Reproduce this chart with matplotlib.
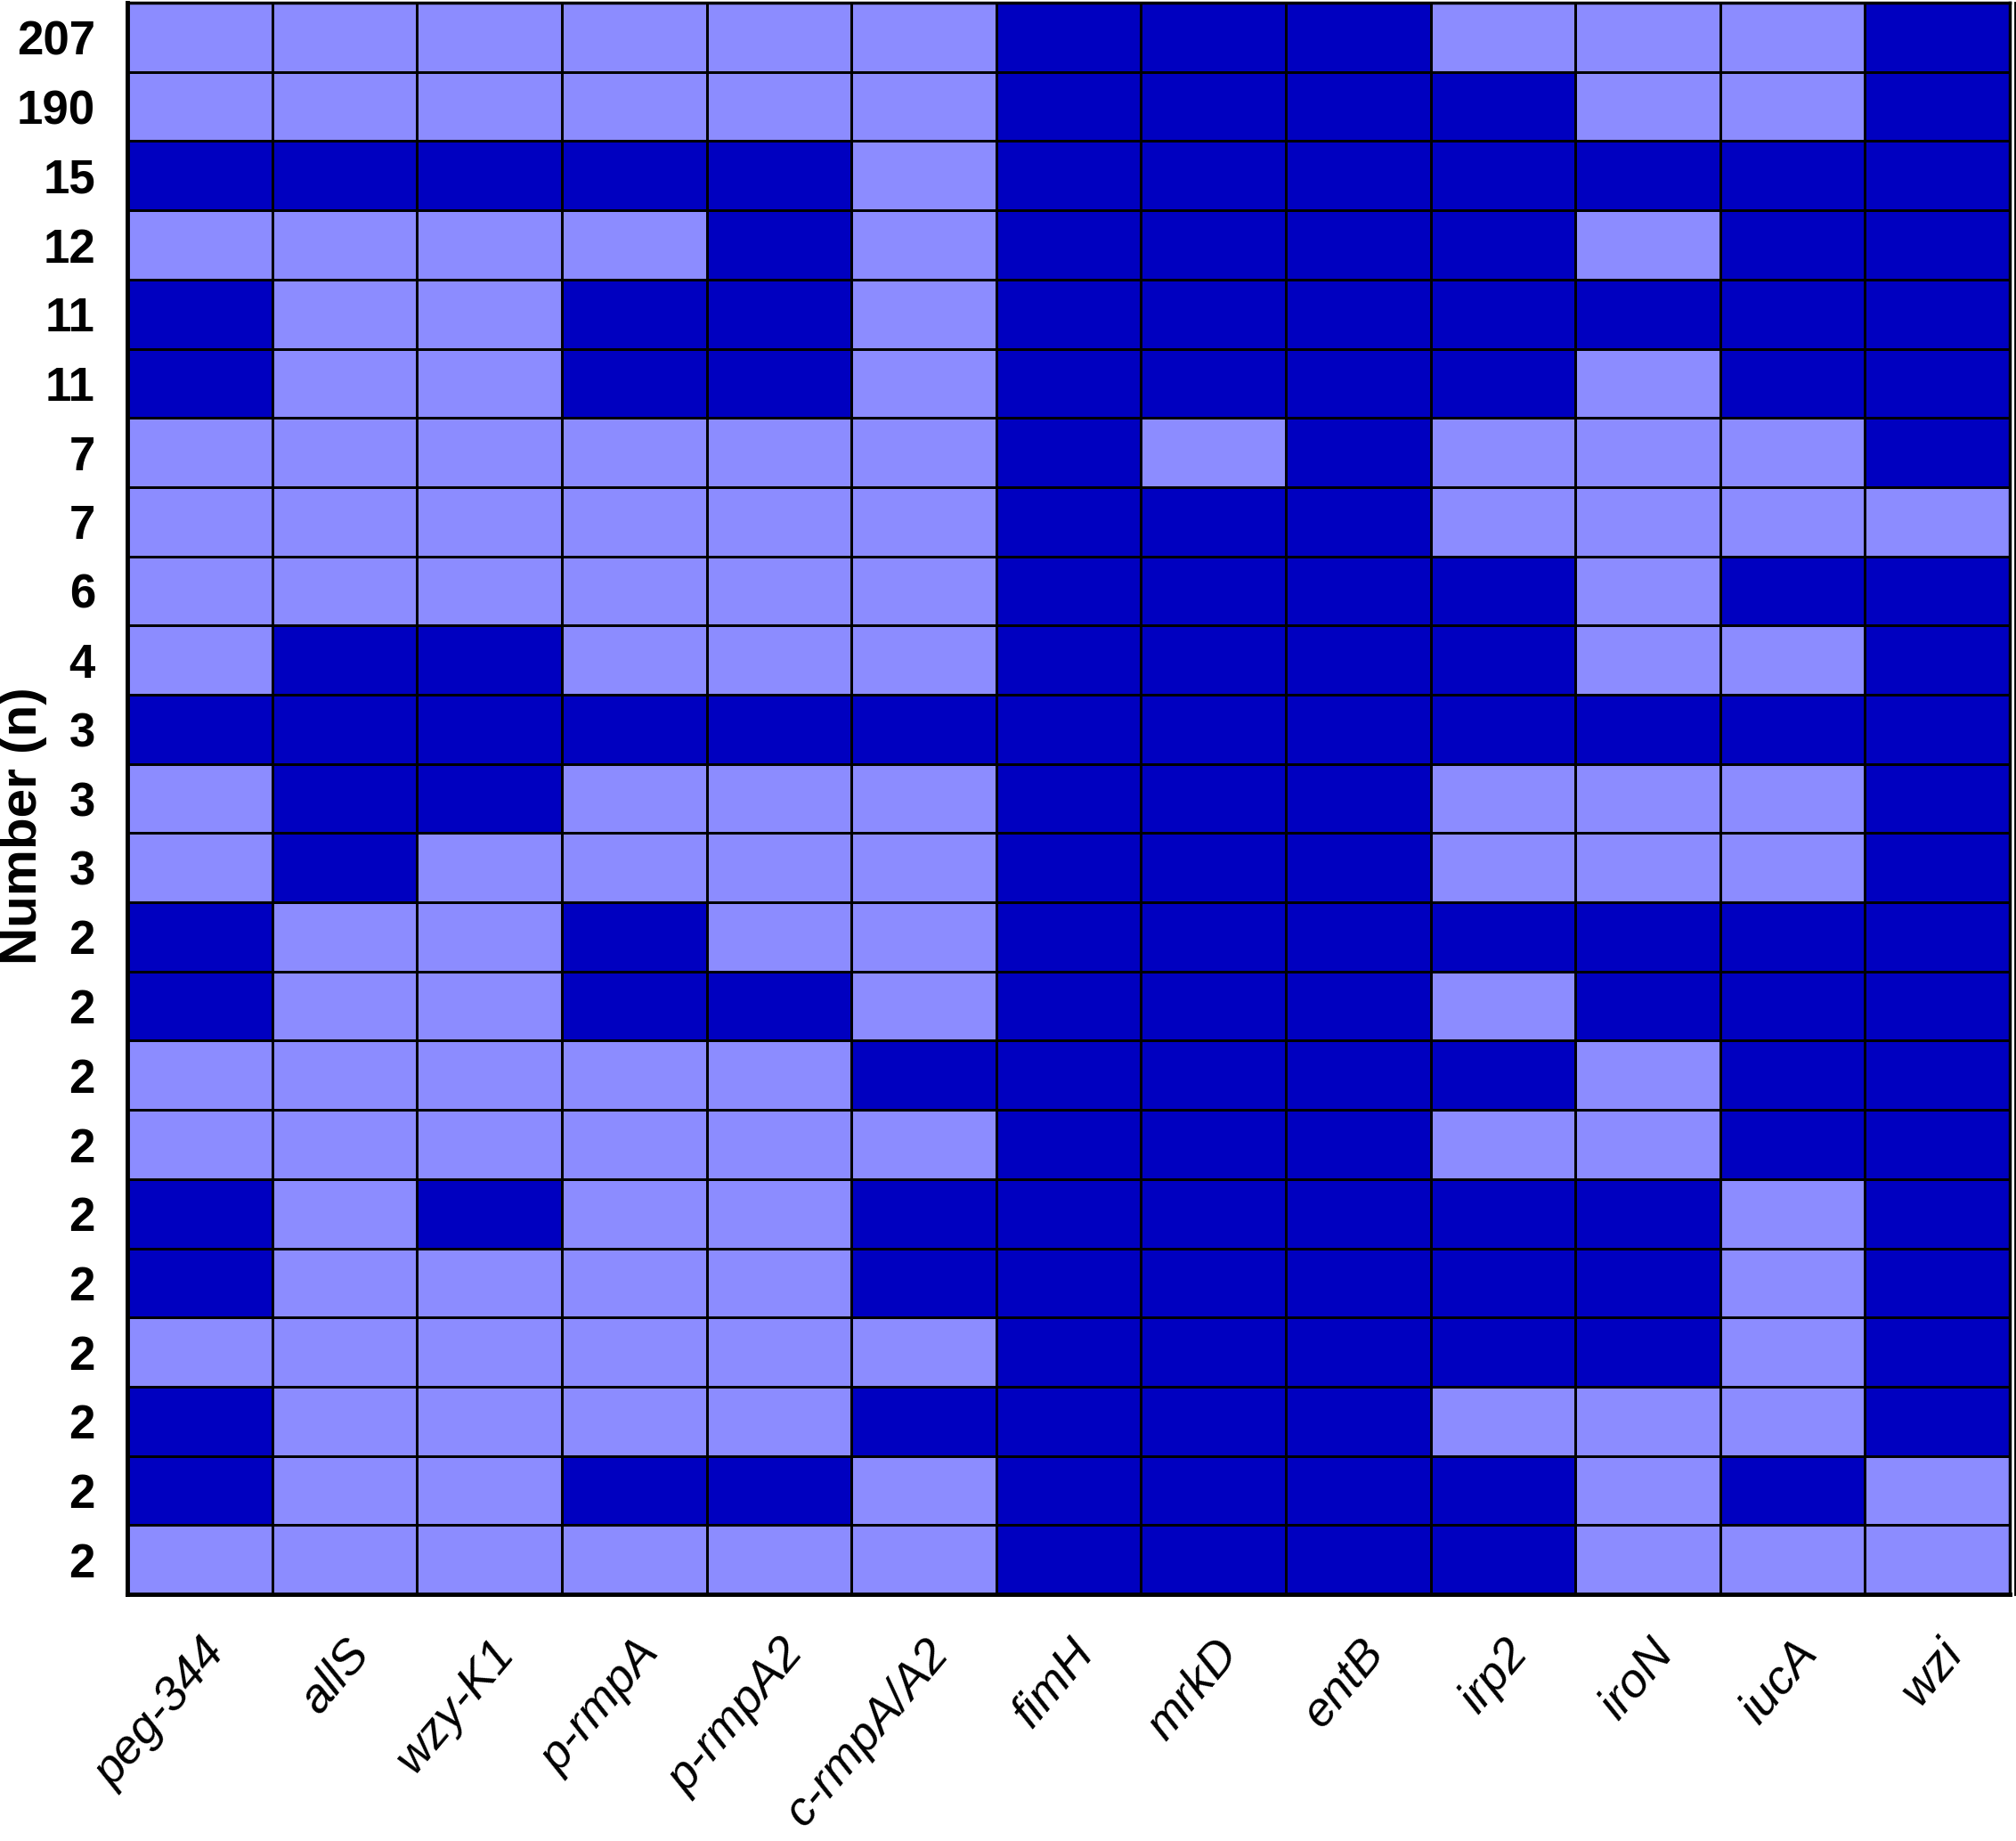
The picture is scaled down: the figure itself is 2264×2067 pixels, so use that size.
import matplotlib
matplotlib.use('Agg')
import matplotlib.pyplot as plt
from matplotlib.colors import ListedColormap
import numpy as np

plt.rcParams['font.family'] = ['Liberation Sans', 'DejaVu Sans']

# Genes (columns) and isolate counts (rows, top to bottom)
genes = ['peg-344', 'allS', 'wzy-K1', 'p-rmpA', 'p-rmpA2', 'c-rmpA/A2',
         'fimH', 'mrkD', 'entB', 'irp2', 'iroN', 'iucA', 'wzi']
counts = [207, 190, 15, 12, 11, 11, 7, 7, 6, 4, 3, 3, 3,
          2, 2, 2, 2, 2, 2, 2, 2, 2, 2]

# 1 = gene present (dark), 0 = absent (light)
presence = [
    [0, 0, 0, 0, 0, 0, 1, 1, 1, 0, 0, 0, 1],
    [0, 0, 0, 0, 0, 0, 1, 1, 1, 1, 0, 0, 1],
    [1, 1, 1, 1, 1, 0, 1, 1, 1, 1, 1, 1, 1],
    [0, 0, 0, 0, 1, 0, 1, 1, 1, 1, 0, 1, 1],
    [1, 0, 0, 1, 1, 0, 1, 1, 1, 1, 1, 1, 1],
    [1, 0, 0, 1, 1, 0, 1, 1, 1, 1, 0, 1, 1],
    [0, 0, 0, 0, 0, 0, 1, 0, 1, 0, 0, 0, 1],
    [0, 0, 0, 0, 0, 0, 1, 1, 1, 0, 0, 0, 0],
    [0, 0, 0, 0, 0, 0, 1, 1, 1, 1, 0, 1, 1],
    [0, 1, 1, 0, 0, 0, 1, 1, 1, 1, 0, 0, 1],
    [1, 1, 1, 1, 1, 1, 1, 1, 1, 1, 1, 1, 1],
    [0, 1, 1, 0, 0, 0, 1, 1, 1, 0, 0, 0, 1],
    [0, 1, 0, 0, 0, 0, 1, 1, 1, 0, 0, 0, 1],
    [1, 0, 0, 1, 0, 0, 1, 1, 1, 1, 1, 1, 1],
    [1, 0, 0, 1, 1, 0, 1, 1, 1, 0, 1, 1, 1],
    [0, 0, 0, 0, 0, 1, 1, 1, 1, 1, 0, 1, 1],
    [0, 0, 0, 0, 0, 0, 1, 1, 1, 0, 0, 1, 1],
    [1, 0, 1, 0, 0, 1, 1, 1, 1, 1, 1, 0, 1],
    [1, 0, 0, 0, 0, 1, 1, 1, 1, 1, 1, 0, 1],
    [0, 0, 0, 0, 0, 0, 1, 1, 1, 1, 1, 0, 1],
    [1, 0, 0, 0, 0, 1, 1, 1, 1, 0, 0, 0, 1],
    [1, 0, 0, 1, 1, 0, 1, 1, 1, 1, 0, 1, 0],
    [0, 0, 0, 0, 0, 0, 1, 1, 1, 1, 0, 0, 0],
]

light, dark = '#8c8cff', '#0000c0'

fig = plt.figure(figsize=(22.64, 20.67), dpi=100)
ax = fig.add_axes([0.0632, 0.134, 0.9337, 0.8645])

grid = np.array(presence)
ax.pcolormesh(grid, cmap=ListedColormap([light, dark]), vmin=0, vmax=1,
              edgecolors='black', linewidth=2.0)
ax.set_xlim(0, len(genes))
ax.set_ylim(len(counts), 0)

ax.set_yticks(np.arange(len(counts)) + 0.5)
ax.set_yticklabels([str(c) for c in counts], fontsize=38, fontweight='bold')
ax.set_xticks(np.arange(len(genes)) + 0.5)
ax.set_xticklabels(genes, fontsize=39, style='italic', rotation=50,
                   ha='right', va='top', rotation_mode='anchor')
ax.tick_params(axis='both', length=0)
ax.tick_params(axis='y', pad=26)
ax.tick_params(axis='x', pad=30)

for side in ['left', 'bottom']:
    ax.spines[side].set_linewidth(3.5)
for side in ['top', 'right']:
    ax.spines[side].set_linewidth(2.5)

# thin second rule just right of the frame, as in the original figure
ax.axvline(len(genes) + 0.035, color='black', linewidth=2.0, clip_on=False)

ax.set_ylabel('Number (n)', fontsize=42, fontweight='bold')
ax.yaxis.set_label_coords(-0.0425, 0.483)

fig.savefig('out.png', dpi=100)
